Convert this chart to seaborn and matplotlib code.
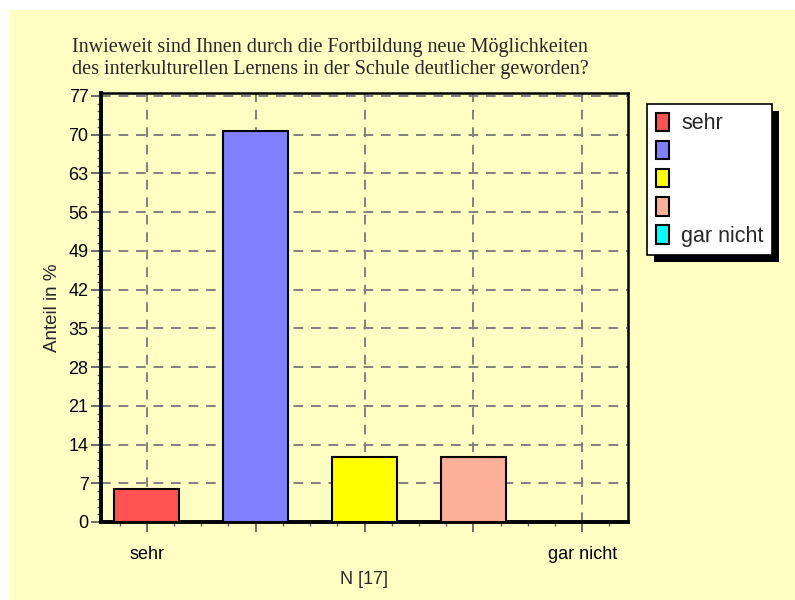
import matplotlib
matplotlib.use("Agg")
import matplotlib.pyplot as plt
from matplotlib.patches import Patch, Rectangle
from matplotlib.ticker import MultipleLocator, AutoMinorLocator
import pandas as pd
import seaborn as sns

# data (N = 17)
categories = ["sehr", "2", "3", "4", "gar nicht"]
tick_labels = ["sehr", "", "", "", "gar nicht"]
legend_labels = ["sehr", "", "", "", "gar nicht"]
values = [5.9, 70.6, 11.8, 11.8, 0.0]
colors = ["#FF5252", "#8080FF", "#FFFF00", "#FFB098", "#00FFFF"]

title = ("Inwieweit sind Ihnen durch die Fortbildung neue Möglichkeiten\n"
         "des interkulturellen Lernens in der Schule deutlicher geworden?")

bg = "#FFFFC4"

sns.set_style("white")
plt.rcParams["font.family"] = ["Liberation Sans", "DejaVu Sans"]

df = pd.DataFrame({"cat": categories, "val": values})

fig = plt.figure(figsize=(7.95, 6.0), dpi=100, facecolor="white")
fig.patches.append(Rectangle((10 / 795, 0), 1, 590 / 600, transform=fig.transFigure,
                             facecolor=bg, edgecolor="none", zorder=-10))

ax = fig.add_axes([101 / 795, 78 / 600, 527 / 795, 429 / 600])
ax.set_facecolor(bg)

sns.barplot(data=df, x="cat", y="val", hue="cat", palette=colors, order=categories,
            hue_order=categories, width=0.6, saturation=1, edgecolor="black",
            linewidth=1.5, legend=False, ax=ax, zorder=3)

ax.set_xlim(-0.42, 4.42)
ax.set_ylim(0, 77.5)
ax.yaxis.set_major_locator(MultipleLocator(7))
ax.yaxis.set_minor_locator(AutoMinorLocator(5))
ax.xaxis.set_minor_locator(MultipleLocator(0.25))
ax.set_xticks(range(len(categories)))
ax.set_xticklabels(tick_labels)

ax.grid(True, which="major", color="#808080", linestyle=(0, (5, 4)), linewidth=1.4, zorder=1)
ax.set_axisbelow(True)

for side in ["left", "bottom"]:
    ax.spines[side].set_linewidth(2.8)
for side in ["top", "right"]:
    ax.spines[side].set_linewidth(1.8)
for s in ax.spines.values():
    s.set_color("black")

ax.tick_params(axis="both", which="major", direction="out", length=7, width=1.3,
               color="#606060", labelsize=13, colors="black")
ax.tick_params(axis="y", which="major", pad=2)
ax.tick_params(axis="x", which="major", pad=10)
ax.tick_params(axis="both", which="minor", direction="out", length=3, width=1,
               color="#606060")
ax.tick_params(axis="both", which="both", bottom=True, left=True)

ax.set_xlabel("N [17]", fontsize=13, labelpad=6)
ax.set_ylabel("Anteil in %", fontsize=13.5, labelpad=5)

fig.text(330 / 795, 1 - 58.5 / 600, title, ha="center", va="center",
         fontsize=14.5, family=["Liberation Serif", "DejaVu Serif"], linespacing=1.25)

handles = [Patch(facecolor=c, edgecolor="black", linewidth=1.5) for c in colors]
leg = fig.legend(handles, legend_labels, loc="upper left",
                 bbox_to_anchor=(647 / 795, 1 - 104 / 600), bbox_transform=fig.transFigure,
                 fontsize=15.5, frameon=True, fancybox=False, handlelength=0.6,
                 handleheight=0.95, handletextpad=0.6, labelspacing=0.3,
                 borderpad=0.4, borderaxespad=0)
leg.get_frame().set_edgecolor("black")
leg.get_frame().set_linewidth(1.2)
leg.get_frame().set_facecolor("white")
leg.get_frame().set_alpha(1)

# shadow behind legend box
fig.canvas.draw()
bb = leg.get_window_extent().transformed(fig.transFigure.inverted())
fig.patches.append(Rectangle((bb.x0 + 7 / 795, bb.y0 - 7 / 600), bb.width, bb.height,
                             transform=fig.transFigure, facecolor="black",
                             edgecolor="none", zorder=-5))

fig.savefig("out.png", dpi=100, facecolor="white")
